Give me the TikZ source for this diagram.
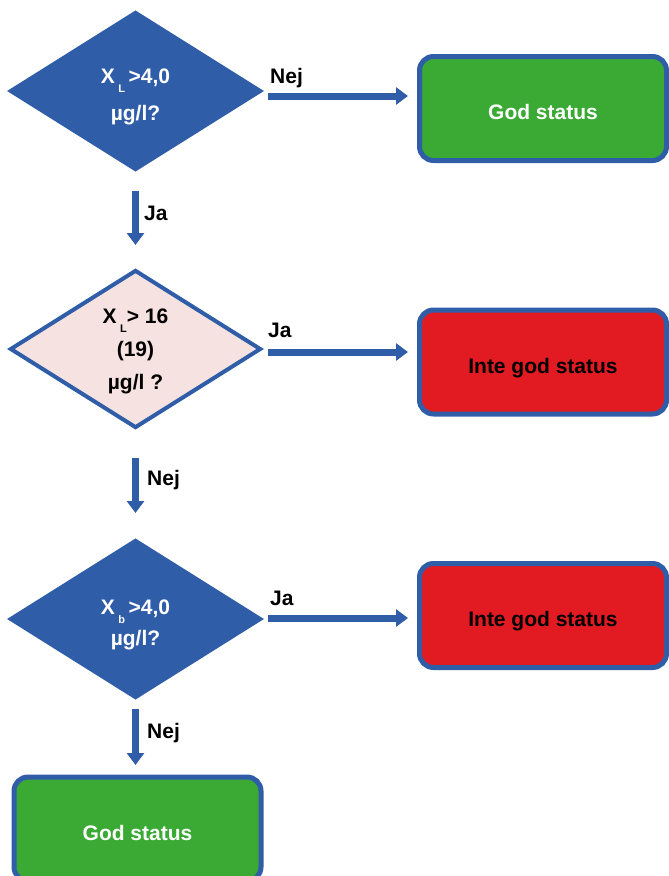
\documentclass[tikz,border=0pt]{standalone}
\usepackage{fontspec}
\setmainfont{Liberation Sans}
\usepackage{xcolor}
\definecolor{flowblue}{RGB}{47,93,168}
\definecolor{palerose}{RGB}{246,226,225}
\definecolor{okgreen}{RGB}{58,170,53}
\definecolor{badred}{RGB}{226,27,35}
\usepackage{tikz}
\usetikzlibrary{shapes.geometric,arrows.meta}
\newcommand{\lowidx}[1]{\raisebox{-9pt}{\fontsize{11}{11}\selectfont #1}}

\begin{document}
\begin{tikzpicture}[x=1pt,y=-1pt,
        decision/.style={diamond,aspect=1.6,inner sep=0pt,draw=flowblue,line width=4pt,minimum width=251pt,minimum height=158pt,align=center,font=\bfseries\fontsize{21}{37}\selectfont},
        outcome/.style={rectangle,rounded corners=14pt,draw=flowblue,line width=5pt,minimum width=247pt,minimum height=104pt,text height=22pt,text depth=0pt,font=\bfseries\fontsize{21}{24}\selectfont},
        flow/.style={draw=flowblue,line width=7pt,-{Triangle[length=12pt,width=17pt]}},
        lbl/.style={inner sep=0pt,anchor=base west,font=\bfseries\fontsize{21}{24}\selectfont}]
        \clip (0,0) rectangle (669,876);
        \node[decision,fill=flowblue,text=white] (d1) at (135.5,91) {\rule{0pt}{26pt}X\,\lowidx{L}\,>4,0\\µg/l?};
        \node[decision,fill=palerose,font=\bfseries\fontsize{21}{33}\selectfont] (d2) at (135.5,349) {\rule{0pt}{20pt}X\,\lowidx{L}> 16\\(19)\\µg/l ?};
        \node[decision,fill=flowblue,text=white,font=\bfseries\fontsize{21}{31}\selectfont] (d3) at (135.5,619) {\rule{0pt}{26pt}X\,\lowidx{b}\,>4,0\\µg/l?};
        \node[outcome,fill=okgreen,text=white] (g1) at (543,108.5) {God status};
        \node[outcome,fill=badred] (r2) at (543,362) {Inte god status};
        \node[outcome,fill=badred] (r3) at (543,615.5) {Inte god status};
        \node[outcome,fill=okgreen,text=white] (g4) at (137.5,829) {God status};
        \draw[flow] ([shift={(5,5)}]d1.east) -- ([shift={(-9,5)}]d1.east -| g1.west);
        \draw[flow] ([shift={(5,3)}]d2.east) -- ([shift={(-9,3)}]d2.east -| r2.west);
        \draw[flow] ([shift={(5,-1)}]d3.east) -- ([shift={(-9,-1)}]d3.east -| r3.west);
        \draw[flow] ([shift={(0,19)}]d1.south) -- ([shift={(0,-23)}]d2.north);
        \draw[flow] ([shift={(0,28)}]d2.south) -- ([shift={(0,-25)}]d3.north);
        \draw[flow] ([shift={(0,9)}]d3.south) -- ([shift={(0,-9.5)}]d3.south |- g4.north);
        \node[lbl] (l1) at (270,83) {Nej};
        \node[lbl] (l2) at (144,220) {Ja};
        \node[lbl] (l3) at (268,337) {Ja};
        \node[lbl] (l4) at (147,485) {Nej};
        \node[lbl] (l5) at (270,605) {Ja};
        \node[lbl] (l6) at (147,738) {Nej};
    \end{tikzpicture}
\end{document}
